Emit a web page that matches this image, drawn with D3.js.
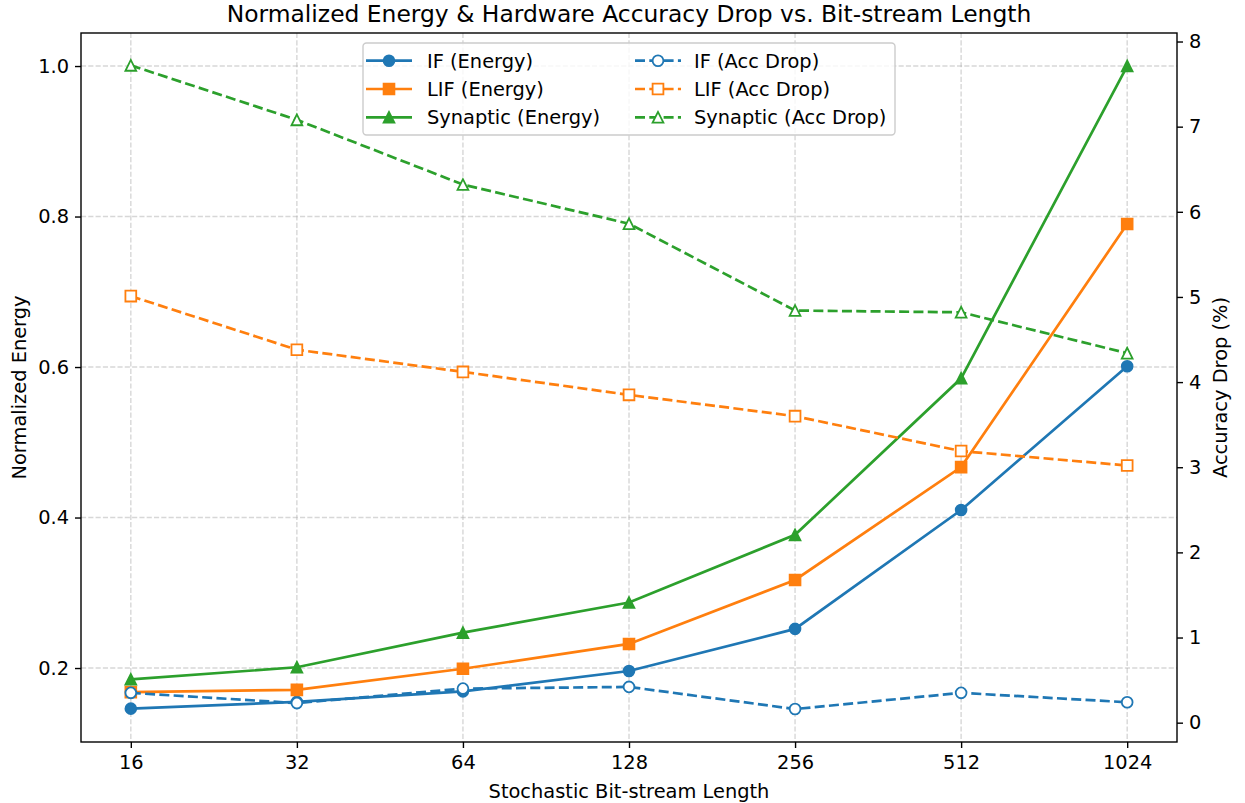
<!DOCTYPE html>
<html>
<head>
<meta charset="utf-8">
<script src="https://cdn.jsdelivr.net/npm/d3@7"></script>
<style>
  body { margin: 0; background: #fff; }
  svg { display: block; font-family: "DejaVu Sans", sans-serif; }
</style>
</head>
<body>
<div id="chart"></div>
<script>
// bit-stream lengths
const lengths = [16, 32, 64, 128, 256, 512, 1024];

// normalized energy (left axis)
const ifEnergy = [0.146, 0.155, 0.169, 0.196, 0.252, 0.410, 0.601];
const lifEnergy = [0.168, 0.171, 0.199, 0.232, 0.317, 0.467, 0.790];
const synEnergy = [0.185, 0.201, 0.247, 0.287, 0.377, 0.585, 1.0];

// accuracy drop in % (right axis)
const ifAcc = [0.35, 0.23, 0.40, 0.42, 0.16, 0.35, 0.24];
const lifAcc = [5.01, 4.38, 4.12, 3.85, 3.60, 3.19, 3.02];
const synAcc = [7.72, 7.08, 6.32, 5.86, 4.84, 4.82, 4.34];

const leftTicks = [0.2, 0.4, 0.6, 0.8, 1.0];
const rightTicks = [0, 1, 2, 3, 4, 5, 6, 7, 8];

const W = 1245, H = 803;
const M = { l: 81, r: 68, t: 33, b: 61 };
const C = { blue: "#1f77b4", orange: "#ff7f0e", green: "#2ca02c" };
const FS = 19.4, LW = 2.7, MS = 10.8;

const svg = d3.select("#chart").append("svg").attr("width", W).attr("height", H);

const x = d3.scaleLog().base(2).domain([Math.pow(2, 3.7), Math.pow(2, 10.3)]).range([M.l, W - M.r]);
const yL = d3.scaleLinear().domain([0.1017, 1.0439]).range([H - M.b, M.t]);
const yR = d3.scaleLinear().domain([-0.227, 8.10]).range([H - M.b, M.t]);

// grid
const grid = svg.append("g").attr("stroke", "#b0b0b0").attr("stroke-opacity", 0.5)
    .attr("stroke-width", 1.4).attr("stroke-dasharray", "5.1,2.2");
grid.selectAll(".gx").data(lengths).join("line")
    .attr("x1", d => x(d)).attr("x2", d => x(d)).attr("y1", M.t).attr("y2", H - M.b);
grid.selectAll(".gy").data(leftTicks).join("line")
    .attr("x1", M.l).attr("x2", W - M.r).attr("y1", d => yL(d)).attr("y2", d => yL(d));

function markerPath(shape) {
    const s = MS / 2;
    if (shape === "square") return `M${-s},${-s}H${s}V${s}H${-s}Z`;
    if (shape === "triangle") return `M0,${-s}L${-s},${s}L${s},${s}Z`;
    return d3.symbol(d3.symbolCircle, Math.PI * s * s)();
}

const series = [
    { name: "IF (Energy)", vals: ifEnergy, y: yL, color: C.blue, shape: "circle", dashed: false },
    { name: "LIF (Energy)", vals: lifEnergy, y: yL, color: C.orange, shape: "square", dashed: false },
    { name: "Synaptic (Energy)", vals: synEnergy, y: yL, color: C.green, shape: "triangle", dashed: false },
    { name: "IF (Acc Drop)", vals: ifAcc, y: yR, color: C.blue, shape: "circle", dashed: true },
    { name: "LIF (Acc Drop)", vals: lifAcc, y: yR, color: C.orange, shape: "square", dashed: true },
    { name: "Synaptic (Acc Drop)", vals: synAcc, y: yR, color: C.green, shape: "triangle", dashed: true }
];

const plot = svg.append("g");
series.forEach(s => {
    const line = d3.line().x((d, i) => x(lengths[i])).y(d => s.y(d));
    plot.append("path").datum(s.vals).attr("d", line).attr("fill", "none")
        .attr("stroke", s.color).attr("stroke-width", LW)
        .attr("stroke-dasharray", s.dashed ? "10,4.3" : null);
    plot.selectAll(null).data(s.vals).join("path")
        .attr("transform", (d, i) => `translate(${x(lengths[i])},${s.y(d)})`)
        .attr("d", markerPath(s.shape))
        .attr("fill", s.dashed ? "#fff" : s.color)
        .attr("stroke", s.color).attr("stroke-width", 1.8);
});

// axes
const bottom = svg.append("g").attr("transform", `translate(0,${H - M.b})`)
    .call(d3.axisBottom(x).tickValues(lengths).tickFormat(d3.format("d")).tickSizeOuter(0).tickSize(6).tickPadding(7));
const left = svg.append("g").attr("transform", `translate(${M.l},0)`)
    .call(d3.axisLeft(yL).tickValues(leftTicks).tickFormat(d3.format(".1f")).tickSizeOuter(0).tickSize(6).tickPadding(6));
const right = svg.append("g").attr("transform", `translate(${W - M.r},0)`)
    .call(d3.axisRight(yR).tickValues(rightTicks).tickFormat(d3.format("d")).tickSizeOuter(0).tickSize(6).tickPadding(6));
[bottom, left, right].forEach(a => {
    a.selectAll("text").attr("font-size", FS).attr("fill", "#000").attr("font-family", "DejaVu Sans");
    a.selectAll("line").attr("stroke", "#000").attr("stroke-width", 1.4);
    a.select(".domain").remove();
});

// frame
svg.append("rect").attr("x", M.l).attr("y", M.t).attr("width", W - M.l - M.r).attr("height", H - M.t - M.b)
    .attr("fill", "none").attr("stroke", "#000").attr("stroke-width", 1.4);

// labels
svg.append("text").attr("x", (M.l + W - M.r) / 2).attr("y", 22).attr("text-anchor", "middle")
    .attr("font-size", 23.4).text("Normalized Energy & Hardware Accuracy Drop vs. Bit-stream Length");
svg.append("text").attr("x", (M.l + W - M.r) / 2).attr("y", 798).attr("text-anchor", "middle")
    .attr("font-size", FS).text("Stochastic Bit-stream Length");
svg.append("text").attr("transform", `translate(26,${(M.t + H - M.b) / 2}) rotate(-90)`).attr("text-anchor", "middle")
    .attr("font-size", FS).text("Normalized Energy");
svg.append("text").attr("transform", `translate(1227,${(M.t + H - M.b) / 2}) rotate(-90)`).attr("text-anchor", "middle")
    .attr("font-size", FS).text("Accuracy Drop (%)");

// legend
const lg = svg.append("g").attr("transform", "translate(363,43)");
lg.append("rect").attr("width", 532).attr("height", 92).attr("rx", 3.5)
    .attr("fill", "#fff").attr("fill-opacity", 0.8).attr("stroke", "#cccccc").attr("stroke-width", 1.4);
series.forEach((s, i) => {
    const col = Math.floor(i / 3), row = i % 3;
    const g = lg.append("g").attr("transform", `translate(${col === 0 ? 3 : 272},${17.7 + row * 28.3})`);
    g.append("line").attr("x1", 0).attr("x2", 46).attr("stroke", s.color).attr("stroke-width", LW)
        .attr("stroke-dasharray", s.dashed ? "10,4.3" : null);
    g.append("path").attr("transform", "translate(23,0)").attr("d", markerPath(s.shape))
        .attr("fill", s.dashed ? "#fff" : s.color).attr("stroke", s.color).attr("stroke-width", 1.8);
    g.append("text").attr("x", col === 0 ? 61 : 59).attr("y", 7).attr("font-size", FS).text(s.name);
});
</script>
</body>
</html>
